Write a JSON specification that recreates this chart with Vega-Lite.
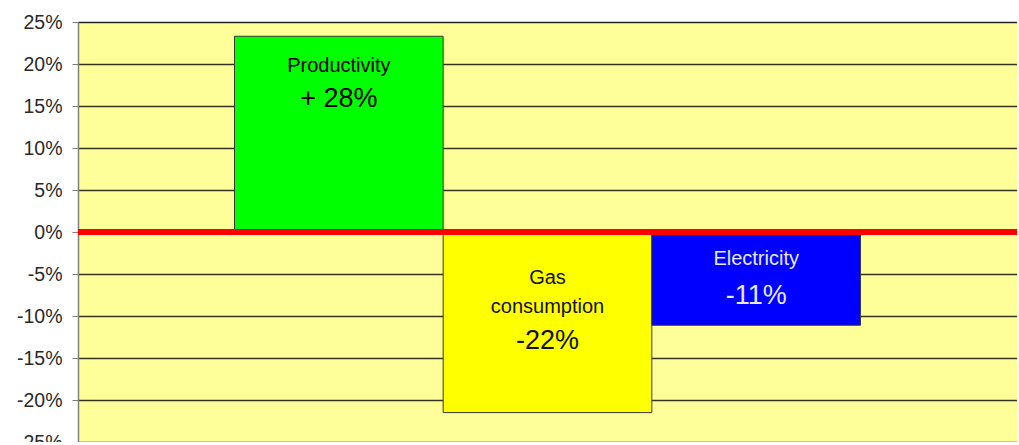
{
  "$schema": "https://vega.github.io/schema/vega-lite/v6.json",
  "autosize": {"type": "none"},
  "padding": {"left": 78, "top": 22, "right": 0, "bottom": 0},
  "width": 939,
  "height": 420,
  "background": "#ffffff",
  "config": {
    "view": {"fill": "#FFFF99", "stroke": "#999999", "strokeWidth": 1},
    "font": "Liberation Sans",
    "text": {"font": "Liberation Sans"}
  },
  "data": {
    "values": [
      {"category": "Productivity", "value": 23.3, "name": "Productivity", "pct": "+ 28%"},
      {"category": "Gas consumption", "value": -21.5, "name": "Gas\nconsumption", "pct": "-22%"},
      {"category": "Electricity", "value": -11.1, "name": "Electricity", "pct": "-11%"}
    ]
  },
  "layer": [
    {
      "mark": {"type": "bar", "stroke": "#3a3a3a", "strokeWidth": 1},
      "encoding": {
        "x": {
          "field": "category",
          "type": "nominal",
          "sort": ["Productivity", "Gas consumption", "Electricity"],
          "scale": {"paddingInner": 0, "paddingOuter": 0.75},
          "axis": null
        },
        "y": {
          "field": "value",
          "type": "quantitative",
          "scale": {"domain": [-25, 25], "nice": false},
          "axis": {
            "values": [-25, -20, -15, -10, -5, 0, 5, 10, 15, 20, 25],
            "labelExpr": "datum.value + '%'",
            "title": null,
            "grid": true,
            "gridColor": "#000000",
            "gridOpacity": 0.8,
            "gridWidth": 1.3,
            "domainColor": "#808080",
            "domainWidth": 1.5,
            "tickColor": "#808080",
            "tickSize": 6,
            "labelPadding": 10,
            "labelFont": "Liberation Sans",
            "labelFontSize": 19.5,
            "labelColor": "#2a2a2a"
          }
        },
        "color": {
          "field": "category",
          "type": "nominal",
          "scale": {
            "domain": ["Productivity", "Gas consumption", "Electricity"],
            "range": ["#00FF00", "#FFFF00", "#0000FF"]
          },
          "legend": null
        }
      }
    },
    {
      "mark": {"type": "rule", "color": "#FF0000", "strokeWidth": 6},
      "encoding": {"y": {"datum": 0, "type": "quantitative"}}
    },
    {
      "transform": [{"filter": "datum.category === 'Productivity'"}],
      "mark": {"type": "text", "fontSize": 20, "dy": 30, "baseline": "middle", "color": "#000000"},
      "encoding": {
        "x": {"field": "category", "type": "nominal", "sort": ["Productivity", "Gas consumption", "Electricity"]},
        "y": {"field": "value", "type": "quantitative"},
        "text": {"field": "name"}
      }
    },
    {
      "transform": [{"filter": "datum.category === 'Productivity'"}],
      "mark": {"type": "text", "fontSize": 27, "dy": 63, "baseline": "middle", "color": "#000000"},
      "encoding": {
        "x": {"field": "category", "type": "nominal", "sort": ["Productivity", "Gas consumption", "Electricity"]},
        "y": {"field": "value", "type": "quantitative"},
        "text": {"field": "pct"}
      }
    },
    {
      "transform": [{"filter": "datum.category === 'Gas consumption'"}],
      "mark": {"type": "text", "fontSize": 20, "dy": 46, "baseline": "middle", "lineBreak": "\n", "lineHeight": 29, "color": "#111111"},
      "encoding": {
        "x": {"field": "category", "type": "nominal", "sort": ["Productivity", "Gas consumption", "Electricity"]},
        "y": {"datum": 0, "type": "quantitative"},
        "text": {"field": "name"}
      }
    },
    {
      "transform": [{"filter": "datum.category === 'Gas consumption'"}],
      "mark": {"type": "text", "fontSize": 27, "dy": 109, "baseline": "middle", "color": "#111111"},
      "encoding": {
        "x": {"field": "category", "type": "nominal", "sort": ["Productivity", "Gas consumption", "Electricity"]},
        "y": {"datum": 0, "type": "quantitative"},
        "text": {"field": "pct"}
      }
    },
    {
      "transform": [{"filter": "datum.category === 'Electricity'"}],
      "mark": {"type": "text", "fontSize": 20, "dy": 27, "baseline": "middle", "color": "#E8E8FF"},
      "encoding": {
        "x": {"field": "category", "type": "nominal", "sort": ["Productivity", "Gas consumption", "Electricity"]},
        "y": {"datum": 0, "type": "quantitative"},
        "text": {"field": "name"}
      }
    },
    {
      "transform": [{"filter": "datum.category === 'Electricity'"}],
      "mark": {"type": "text", "fontSize": 27, "dy": 64, "baseline": "middle", "color": "#E8E8FF"},
      "encoding": {
        "x": {"field": "category", "type": "nominal", "sort": ["Productivity", "Gas consumption", "Electricity"]},
        "y": {"datum": 0, "type": "quantitative"},
        "text": {"field": "pct"}
      }
    }
  ]
}
